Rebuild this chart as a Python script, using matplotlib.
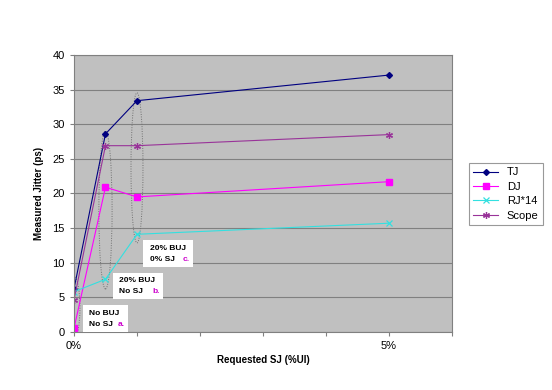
import matplotlib
matplotlib.use("Agg")
import matplotlib.pyplot as plt
from matplotlib.patches import Ellipse, Rectangle

plt.rcParams['font.family'] = ['Liberation Sans', 'DejaVu Sans']

# requested SJ (%UI) positions of the measurement points
sj = [0, 0.5, 1, 5]
tj = [6.2, 28.6, 33.4, 37.1]
dj = [0.5, 20.9, 19.5, 21.7]
rj14 = [5.8, 7.6, 14.1, 15.7]
scope = [4.6, 26.9, 26.9, 28.5]

x_ticks = [0, 1, 2, 3, 4, 5, 6]
x_labels = ["0%", "", "", "", "", "5%", ""]
y_ticks = [0, 5, 10, 15, 20, 25, 30, 35, 40]

note_lines = [("No BUJ", "No SJ"), ("20% BUJ", "No SJ"), ("20% BUJ", "0% SJ")]
note_tags = ["a.", "b.", "c."]
# note boxes (x0, y0, x1, y1) in data units
note_boxes = [(0.14, 0.0, 0.86, 3.9), (0.62, 4.8, 1.41, 8.5), (1.10, 9.4, 1.89, 13.3)]
# dotted ellipses round the point groups (x, y, w, h)
groups = [(0, 3.5, 0.19, 9.0), (0.5, 17.6, 0.21, 22.8), (1.0, 23.7, 0.19, 21.7)]

fig = plt.figure(figsize=(5.52, 3.9), dpi=100)
ax = fig.add_axes([0.134, 0.149, 0.685, 0.710])
ax.set_facecolor("#C0C0C0")

ax.plot(sj, tj, color="#000080", marker="D", ms=3, lw=0.8, label="TJ")
ax.plot(sj, dj, color="#FF00FF", marker="s", ms=4, lw=0.8, label="DJ")
ax.plot(sj, rj14, color="#33E0E0", marker="x", ms=4, mew=0.9, lw=0.8, label="RJ*14")
ax.plot(sj, scope, color="#993399", marker=(6, 2, 0), ms=5, mew=0.9, lw=0.8, label="Scope")

for cx, cy, w, h in groups:
    ax.add_patch(Ellipse((cx, cy), w, h, fill=False, ls=(0, (1, 1.5)),
                         ec="#707070", lw=0.7, zorder=1))

for (l1, l2), tag, (x0, y0, x1, y1) in zip(note_lines, note_tags, note_boxes):
    ax.add_patch(Rectangle((x0, y0), x1 - x0, y1 - y0, fc="white", ec="none", zorder=4))
    tx = x0 + 0.1
    ax.text(tx, y0 + (y1 - y0) * 0.69, l1, fontsize=6, fontweight="bold",
            va="center", ha="left", zorder=5)
    ax.text(tx, y0 + (y1 - y0) * 0.28, l2, fontsize=6, fontweight="bold",
            va="center", ha="left", zorder=5)
    ax.text(x1 - 0.17, y0 + (y1 - y0) * 0.28, tag, fontsize=6, fontweight="bold",
            color="#CC00CC", va="center", ha="left", zorder=6)

ax.set_xlim(0, 6)
ax.set_ylim(0, 40)
ax.set_xticks(x_ticks)
ax.set_xticklabels(x_labels)
ax.set_yticks(y_ticks)
ax.yaxis.grid(True, color="#808080", lw=0.8)
ax.set_axisbelow(True)
ax.tick_params(labelsize=8, length=3, color="#808080")
for s in ax.spines.values():
    s.set_color("#808080")
    s.set_linewidth(0.8)

ax.set_xlabel("Requested SJ (%UI)", fontsize=7, fontweight="bold", labelpad=3)
ax.set_ylabel("Measured Jitter (ps)", fontsize=7, fontweight="bold", labelpad=6)

leg = ax.legend(loc="upper left", bbox_to_anchor=(1.03, 0.63), fontsize=8,
                frameon=True, fancybox=False, edgecolor="#808080",
                handlelength=2.2, borderpad=0.4, labelspacing=0.4)
leg.get_frame().set_linewidth(0.8)

fig.savefig("out.png", dpi=100)
